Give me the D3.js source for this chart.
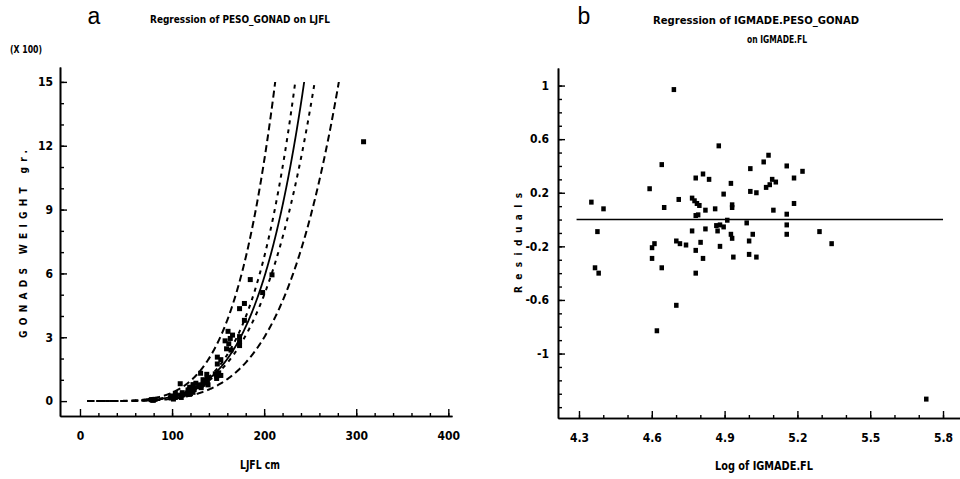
<!DOCTYPE html>
<html>
<head>
<meta charset="utf-8">
<script src="https://cdn.jsdelivr.net/npm/d3@7"></script>
<style>
  body { margin: 0; background: #fff; }
  svg { display: block; }
  text { font-family: "DejaVu Sans Condensed", "Liberation Sans Narrow", sans-serif; font-weight: bold; fill: #000; }
  .axis path, .axis line { stroke: #000; }
  .axis path { stroke-width: 1.6; }
  .axis line { stroke-width: 1.4; }
  .axis text { font-size: 12px; }
</style>
</head>
<body>
<div id="chart"></div>
<script>
// Log of IGMADE.FL and residuals
let logFL = [
	4.35, 4.40, 4.375, 4.365, 4.38, 4.59, 4.64, 4.65, 4.60, 4.61,
	4.60, 4.64, 4.69, 4.71, 4.70, 4.715, 4.74, 4.765, 4.775, 4.785,
	4.795, 4.78, 4.81, 4.835, 4.82, 4.86, 4.78, 4.79, 4.765, 4.82,
	4.80, 4.78, 4.81, 4.78, 4.875, 4.865, 4.87, 4.88, 4.895, 4.895,
	4.91, 4.88, 4.925, 4.93, 4.93, 4.925, 4.93, 4.935, 4.99, 5.00,
	5.015, 5.00, 5.03, 5.005, 5.005, 5.03, 5.06, 5.08, 5.07, 5.085,
	5.095, 5.11, 5.10, 5.155, 5.185, 5.22, 5.185, 5.155, 5.155, 5.155,
	5.29, 5.34, 4.62, 4.70, 5.73,
];
let resid = [
	0.13, 0.08, -0.09, -0.36, -0.40, 0.23, 0.41, 0.09, -0.21, -0.18,
	-0.29, -0.36, 0.97, 0.15, -0.16, -0.18, -0.19, 0.16, 0.14, 0.12,
	0.105, 0.31, 0.34, 0.30, 0.07, 0.08, 0.03, 0.035, -0.085, -0.07,
	-0.17, -0.23, -0.29, -0.40, 0.55, -0.045, -0.085, -0.04, 0.19, -0.055,
	-0.005, -0.20, 0.27, 0.11, 0.09, -0.11, -0.14, -0.28, -0.025, -0.16,
	-0.11, -0.26, -0.28, 0.38, 0.21, 0.20, 0.43, 0.48, 0.24, 0.26,
	0.30, 0.28, 0.07, 0.40, 0.31, 0.36, 0.12, 0.04, -0.04, -0.11,
	-0.09, -0.18, -0.83, -0.64, -1.34,
];

// fitted model: ln(gonad g) = a + b * ln(FL)
let fitA = -19.173,
	fitB = 4.82,
	tCrit = 1.99;

let xTicksA = [0, 100, 200, 300, 400],
	yTicksA = [0, 3, 6, 9, 12, 15];
let xTicksB = [4.3, 4.6, 4.9, 5.2, 5.5, 5.8],
	yTicksB = [1, 0.6, 0.2, -0.2, -0.6, -1];

let w = 960,
	h = 479;

// plain hyphen instead of the unicode minus d3.format gives
let fmtNum = (d) => String(+d.toFixed(1));

let svg = d3.select("#chart").append("svg").attr("width", w).attr("height", h);

// ---------- panel a ----------
let xA = d3.scaleLinear().domain([-21.7, 404]).range([60, 452]);
let yA = d3.scaleLinear().domain([-0.7, 15.7]).range([416, 67]);

function drawAxes(g, x, y, xTicks, yTicks, xMinor, yMinor, x0, y0, padY) {
	g.append("g")
		.attr("class", "axis")
		.attr("transform", "translate(0," + y0 + ")")
		.call(d3.axisBottom(x).tickValues(xMinor).tickSize(-3).tickSizeOuter(0).tickFormat(""));
	g.append("g")
		.attr("class", "axis")
		.attr("transform", "translate(0," + y0 + ")")
		.call(d3.axisBottom(x).tickValues(xTicks).tickSize(-7).tickSizeOuter(0).tickPadding(15).tickFormat(fmtNum));
	g.append("g")
		.attr("class", "axis")
		.attr("transform", "translate(" + x0 + ",0)")
		.call(d3.axisLeft(y).tickValues(yMinor).tickSize(-4).tickSizeOuter(0).tickFormat(""));
	g.append("g")
		.attr("class", "axis")
		.attr("transform", "translate(" + x0 + ",0)")
		.call(d3.axisLeft(y).tickValues(yTicks).tickSize(-7).tickSizeOuter(0).tickPadding(padY).tickFormat(fmtNum));
}

let gA = svg.append("g");
drawAxes(gA, xA, yA, xTicksA, yTicksA, d3.range(20, 401, 20), d3.range(1, 16, 1), 60, 416, 7);

// regression stats from the residuals
let n = logFL.length;
let meanLx = d3.mean(logFL);
let sxx = d3.sum(logFL, (v) => (v - meanLx) * (v - meanLx));
let s = Math.sqrt(d3.sum(resid, (r) => r * r) / (n - 2));

function band(lx, k, pred) {
	let hw = tCrit * s * Math.sqrt((pred ? 1 : 0) + 1 / n + ((lx - meanLx) * (lx - meanLx)) / sxx);
	return Math.exp(fitA + fitB * lx + k * hw) / 100;
}

svg.append("clipPath")
	.attr("id", "clipA")
	.append("rect")
	.attr("x", xA(-21.7))
	.attr("y", yA(15))
	.attr("width", xA(404) - xA(-21.7))
	.attr("height", yA(-0.7) - yA(15));

let xs = d3.range(8, 320, 0.5);
let lineA = d3
	.line()
	.x((d) => xA(d[0]))
	.y((d) => yA(d[1]));

let curves = [
	{ k: 1, pred: true, dash: "7,4", from: 8 },
	{ k: 1, pred: false, dash: "4,5", from: 8 },
	{ k: 0, pred: false, dash: null, from: Math.exp(d3.min(logFL)) },
	{ k: -1, pred: false, dash: "4,5", from: 8 },
	{ k: -1, pred: true, dash: "7,4", from: 8 },
];

let gCurves = gA.append("g").attr("clip-path", "url(#clipA)");
curves.forEach((c) => {
	gCurves
		.append("path")
		.attr("d", lineA(xs.filter((v) => v >= c.from).map((v) => [v, band(Math.log(v), c.k, c.pred)])))
		.attr("fill", "none")
		.attr("stroke", "#000")
		.attr("stroke-width", c.dash ? 2 : 1.8)
		.attr("stroke-dasharray", c.dash);
});

gA.selectAll("rect.pt")
	.data(logFL)
	.enter()
	.append("rect")
	.attr("class", "pt")
	.attr("x", (d) => xA(Math.exp(d)) - 2.5)
	.attr("y", (d, i) => yA(Math.exp(fitA + fitB * d + resid[i]) / 100) - 2.5)
	.attr("width", 5)
	.attr("height", 5)
	.attr("fill", "#000");

gA.append("text").attr("x", 94).attr("y", 24).attr("text-anchor", "middle")
	.style("font-family", "Liberation Sans, sans-serif").style("font-weight", "normal").style("font-size", "23px").text("a");
gA.append("text").attr("x", 150).attr("y", 23).attr("textLength", 180).attr("lengthAdjust", "spacingAndGlyphs")
	.style("font-size", "11px").text("Regression of PESO_GONAD on LJFL");
gA.append("text").attr("x", 10).attr("y", 53).attr("textLength", 32).attr("lengthAdjust", "spacingAndGlyphs")
	.style("font-size", "11px").text("(X 100)");
gA.append("text").attr("transform", "translate(27,338) rotate(-90)").attr("textLength", 188)
	.attr("lengthAdjust", "spacing").style("font-size", "10px").text("GONADS WEIGHT gr.");
gA.append("text").attr("x", 240).attr("y", 469).attr("textLength", 40).attr("lengthAdjust", "spacingAndGlyphs")
	.style("font-size", "12px").text("LJFL cm");

// ---------- panel b ----------
let xB = d3.scaleLinear().domain([4.2135, 5.87]).range([558, 960]);
let yB = d3.scaleLinear().domain([-1.481, 1.131]).range([418, 68]);

let gB = svg.append("g");
drawAxes(gB, xB, yB, xTicksB, yTicksB, d3.range(4.3, 5.85, 0.1), d3.range(-1.4, 1.05, 0.1), 558, 418, 9);

let zeroLine = [4.29, 5.8];
gB.append("line")
	.attr("x1", xB(zeroLine[0]))
	.attr("x2", xB(zeroLine[1]))
	.attr("y1", yB(0))
	.attr("y2", yB(0))
	.attr("stroke", "#000")
	.attr("stroke-width", 1.5);

gB.selectAll("rect.pt")
	.data(logFL)
	.enter()
	.append("rect")
	.attr("class", "pt")
	.attr("x", (d) => xB(d) - 2)
	.attr("y", (d, i) => yB(resid[i]) - 2.5)
	.attr("width", 4.5)
	.attr("height", 5)
	.attr("fill", "#000");

gB.append("text").attr("x", 584).attr("y", 24).attr("text-anchor", "middle")
	.style("font-family", "Liberation Sans, sans-serif").style("font-weight", "normal").style("font-size", "23px").text("b");
gB.append("text").attr("x", 653).attr("y", 24).attr("textLength", 206).attr("lengthAdjust", "spacingAndGlyphs")
	.style("font-size", "11px").text("Regression of IGMADE.PESO_GONAD");
gB.append("text").attr("x", 747).attr("y", 43).attr("textLength", 60).attr("lengthAdjust", "spacingAndGlyphs")
	.style("font-size", "11px").text("on IGMADE.FL");
gB.append("text").attr("transform", "translate(522,293) rotate(-90)").attr("textLength", 100)
	.attr("lengthAdjust", "spacing").style("font-size", "10px").text("Residuals");
gB.append("text").attr("x", 715).attr("y", 470).attr("textLength", 98).attr("lengthAdjust", "spacingAndGlyphs")
	.style("font-size", "12px").text("Log of IGMADE.FL");
</script>
</body>
</html>
